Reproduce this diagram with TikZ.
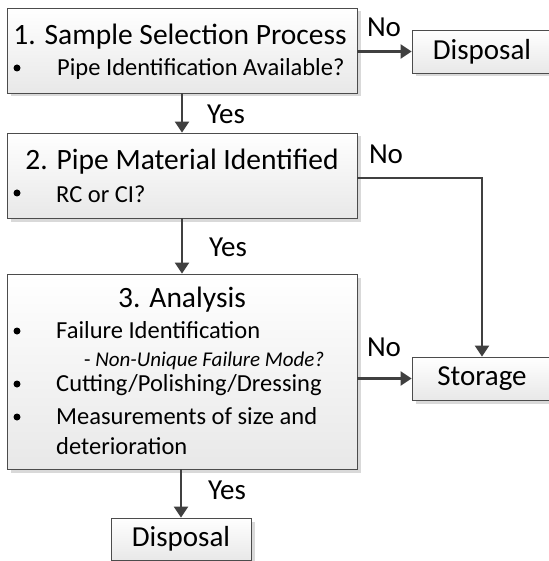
\documentclass[tikz,border=0pt]{standalone}
\usepackage{fontspec}
\setmainfont{Carlito}
\usetikzlibrary{shadows,arrows.meta}
\begin{document}
\begin{tikzpicture}[x=1pt,y=-1pt,
  box/.style={draw=gray!60!black, line width=0.8pt, top color=white, bottom color=gray!18,
    drop shadow={shadow xshift=3.5pt, shadow yshift=-3.5pt, fill=gray!30, opacity=1},
    inner sep=0pt, font=\fontsize{29}{31}\selectfont},
  flow/.style={draw=black!75, line width=2.4pt, -{Triangle[length=11pt,width=14pt]}},
  lbl/.style={font=\fontsize{29}{31}\selectfont, inner sep=0pt},
  ttl/.style={font=\fontsize{29.5}{31}\selectfont, inner sep=0pt, anchor=base},
  itm/.style={font=\fontsize{24.5}{26}\selectfont, inner sep=0pt, anchor=base west},
  dot/.style={circle, fill=black, inner sep=0pt, minimum size=7pt}
]
\useasboundingbox (0,0) rectangle (548,561);
\fill[white] (0,0) rectangle (548,561);

% boxes
\node[box, minimum width=350pt, minimum height=85pt] (b1) at (182,50.5) {};
\node[box, minimum width=350pt, minimum height=85pt] (b2) at (182,175.5) {};
\node[box, minimum width=350pt, minimum height=195pt] (b3) at (182,371.5) {};
\node[box, minimum width=140pt, minimum height=43pt] (d1) at (482,51.5) {Disposal};
\node[box, minimum width=140pt, minimum height=43pt] (st) at (482,378.5) {Storage};
\node[box, minimum width=140pt, minimum height=42pt] (d2) at (181,539) {Disposal};

% box 1 text
\node[ttl] (t1) at (180,45) {1. Sample Selection Process};
\node[dot] (p1) at (17,68) {};
\node[itm] (i1) at (57,76) {Pipe Identification Available?};

% box 2 text
\node[ttl] (t2) at (182,170) {2. Pipe Material Identified};
\node[dot] (p2) at (17,193) {};
\node[itm] (i2) at (56,202) {RC or CI?};

% box 3 text
\node[ttl] (t3) at (182,307) {3. Analysis};
\node[dot] (p3) at (17,331) {};
\node[itm] (i3) at (56,338) {Failure Identification};
\node[itm, font=\fontsize{21}{23}\selectfont\itshape] (i3b) at (84,366) {{\upshape-} Non-Unique Failure Mode?};
\node[dot] (p4) at (17,384) {};
\node[itm] (i4) at (56,391) {Cutting/Polishing/Dressing};
\node[dot] (p5) at (17,417) {};
\node[itm] (i5) at (56,424) {Measurements of size and};
\node[itm] (i6) at (56,454) {deterioration};

% connectors
\draw[flow] (b1.east |- d1) -- (d1.west);
\draw[flow] (b1.south) -- (b2.north);
\draw[flow] (b2.south) -- (b3.north);
\draw[flow] (b3.south -| d2) -- (d2.north);
\coordinate (c2) at (482,178);
\draw[flow] (b2.east |- c2) -- (c2) -- (st.north);
\draw[flow] (b3.east |- st) -- (st.west);

% labels
\node[lbl] (n1) at (384,27) {No};
\node[lbl] (y1) at (226,114) {Yes};
\node[lbl] (n2) at (386,154) {No};
\node[lbl] (y2) at (228,247) {Yes};
\node[lbl] (n3) at (384,347) {No};
\node[lbl] (y3) at (227,490) {Yes};
\end{tikzpicture}
\end{document}
